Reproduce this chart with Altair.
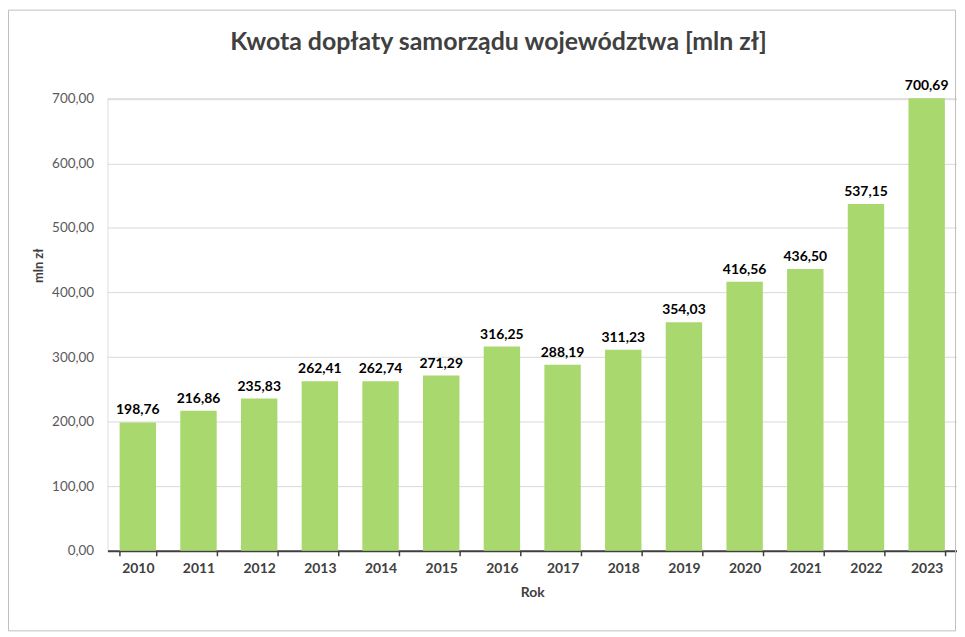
import altair as alt
import pandas as pd

years = ["2010", "2011", "2012", "2013", "2014", "2015", "2016", "2017",
         "2018", "2019", "2020", "2021", "2022", "2023"]
values = [198.76, 216.86, 235.83, 262.41, 262.74, 271.29, 316.25, 288.19,
          311.23, 354.03, 416.56, 436.50, 537.15, 700.69]
y_ticks = [0, 100, 200, 300, 400, 500, 600, 700]

df = pd.DataFrame({"Rok": years, "Kwota": values})
df["Etykieta"] = [f"{v:.2f}".replace(".", ",") for v in values]

FONT = "Lato"

x_enc = alt.X("Rok:N", sort=years,
              scale=alt.Scale(paddingInner=0.4, paddingOuter=0.2),
              axis=alt.Axis(title="Rok", labelAngle=0, labelFont=FONT,
                            labelFontSize=14, labelFontWeight="bold",
                            labelColor="#404040", labelPadding=6,
                            titleFont=FONT, titleFontSize=14, titleFontWeight="bold",
                            titleColor="#404040", titlePadding=10,
                            domainColor="#404040", domainWidth=2,
                            tickColor="#404040", tickSize=5, tickWidth=1.5,
                            tickBand="extent", grid=False))

y_scale = alt.Scale(domain=[0, 701], nice=False)

bars = alt.Chart(df).mark_bar(color="#A9D86E").encode(
    x=x_enc,
    y=alt.Y("Kwota:Q", scale=y_scale,
            axis=alt.Axis(title="mln zł", values=y_ticks,
                          labelExpr="replace(format(datum.value, '.2f'), '.', ',')",
                          labelFont=FONT, labelFontSize=13.5, labelColor="#595959",
                          labelPadding=14, domain=False, ticks=False,
                          gridColor="#D9D9D9", gridWidth=1,
                          titleFont=FONT, titleFontSize=13, titleFontWeight="bold",
                          titleColor="#404040", titleX=-62, titleY=168)),
)

labels = alt.Chart(df).mark_text(dy=-12, font=FONT, fontSize=14,
                                 fontWeight="bold", color="#000000").encode(
    x=alt.X("Rok:N", sort=years),
    y=alt.Y("Kwota:Q", scale=y_scale),
    text="Etykieta:N",
)

border = alt.Chart(df).mark_rect(fill=None, stroke="#BFBFBF", strokeWidth=1).encode(
    x=alt.value(-99.5), x2=alt.value(852.5), y=alt.value(-88.5), y2=alt.value(535.5)
).transform_filter("datum.Rok == '2010'")

chart = alt.layer(border, bars, labels).properties(
    width=854, height=455,
    autosize=alt.AutoSizeParams(type="none"),
    padding={"left": 100, "top": 89, "right": 0, "bottom": 80},
    title=alt.TitleParams("Kwota dopłaty samorządu województwa [mln zł]",
                          font=FONT, fontSize=25, fontWeight="bold",
                          color="#404040", anchor="middle", frame="group",
                          dx=-34, offset=-46),
).configure_view(stroke=None).configure(background="white")

chart.save("out.html", embed_options={"renderer": "svg", "actions": False})
